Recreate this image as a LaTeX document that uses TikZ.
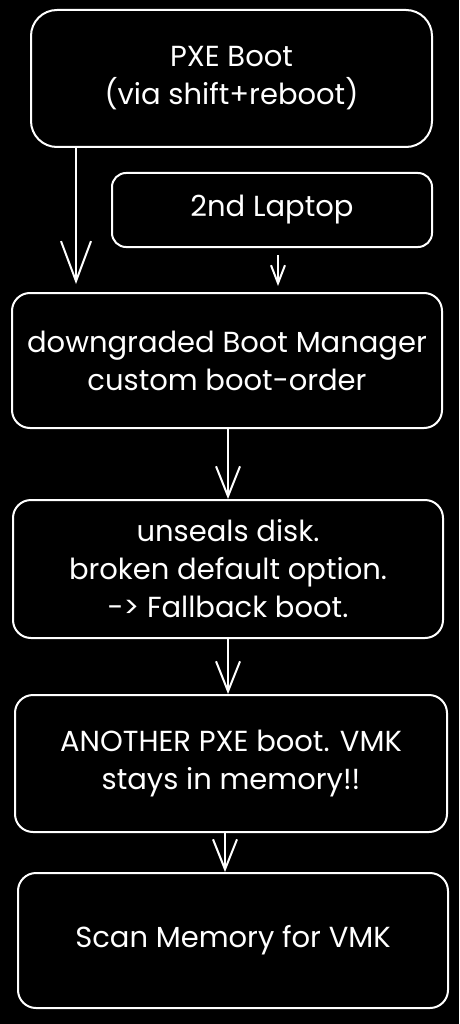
\documentclass[tikz,border=0pt]{standalone}
\usepackage{fontspec}
\setmainfont{Poppins}
\usetikzlibrary{arrows.meta,calc}
\begin{document}
\begin{tikzpicture}[x=1pt,y=-1pt,
  box/.style={draw=white,line width=2pt,rounded corners=18pt,text=white,align=center,
    inner sep=0pt,font=\fontsize{29}{38}\selectfont},
  arr/.style={draw=white,line width=2pt,-{Straight Barb[length=30pt,width=24pt,line width=2pt]}},
  bigarr/.style={draw=white,line width=2pt,-{Straight Barb[length=40pt,width=30pt,line width=2pt]}},
  smallarr/.style={draw=white,line width=2pt,-{Straight Barb[length=18pt,width=14pt,line width=2pt]}}]
\fill[black] (0,0) rectangle (459,1024);
\useasboundingbox (0,0) rectangle (459,1024);
\node[box,minimum width=401pt,minimum height=137pt,rounded corners=26pt] (b1) at (231.5,78.5) {PXE Boot\\(via shift+reboot)};
\node[box,minimum width=320pt,minimum height=74pt,rounded corners=14pt] (b2) at (272,210) {2nd Laptop};
\node[box,minimum width=430pt,minimum height=135pt] (b3) at (227,360.5) {downgraded Boot Manager\\custom boot-order};
\node[box,minimum width=430pt,minimum height=138pt] (b4) at (228,569) {unseals disk.\\broken default option.\\-> Fallback boot.};
\node[box,minimum width=432pt,minimum height=137pt] (b5) at (231,763.5) {ANOTHER PXE boot. VMK\\stays in memory!!};
\node[box,minimum width=430pt,minimum height=135pt] (b6) at (233,940.5) {Scan Memory for VMK};
\coordinate (l1) at (76,147);
\coordinate (l2) at (l1 |- b3.north);
\coordinate (r1) at (278,247);
\coordinate (r2) at (r1 |- b3.north);
\coordinate (a3) at (228,428);
\coordinate (a4) at (a3 |- b4.north);
\coordinate (c4) at (228,638);
\coordinate (c5) at (c4 |- b5.north);
\coordinate (d5) at (225,832);
\coordinate (d6) at (d5 |- b6.north);
\draw[bigarr,shorten >=8pt] (l1) -- (l2);
\draw[smallarr,shorten <=8pt,shorten >=6pt] (r1) -- (r2);
\draw[arr] (a3) -- (a4);
\draw[arr] (c4) -- (c5);
\draw[arr] (d5) -- (d6);
\end{tikzpicture}
\end{document}
